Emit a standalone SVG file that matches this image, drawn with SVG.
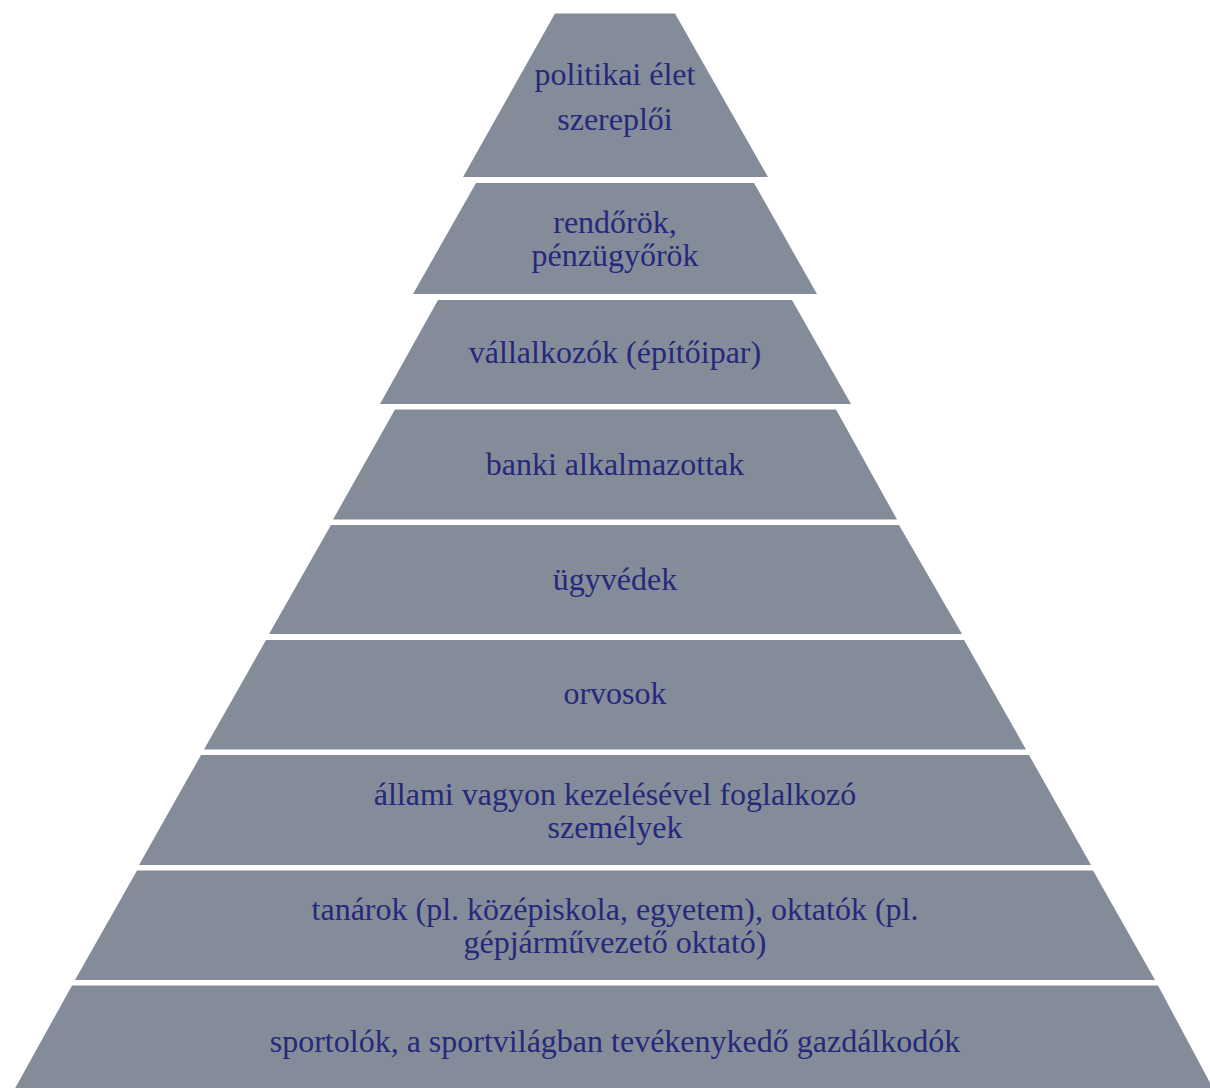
<svg xmlns="http://www.w3.org/2000/svg" width="1210" height="1088" viewBox="0 0 1210 1088">
<style>
.layer{fill:#848c9a;}
.t{font-family:"Liberation Serif","Times New Roman",serif;font-size:32px;fill:#27287a;text-anchor:middle;}
</style>
<rect x="0" y="0" width="1210" height="1088" fill="#ffffff"/>
<g id="layer1">
<polygon class="layer" points="555,13.5 675,13.5 768,177 463,177"/>
<text class="t" x="615" y="85">politikai élet</text>
<text class="t" x="615" y="130">szereplői</text>
</g>
<g id="layer2">
<polygon class="layer" points="476,183 754,183 817,294 413,294"/>
<text class="t" x="615" y="233">rendőrök,</text>
<text class="t" x="615" y="266">pénzügyőrök</text>
</g>
<g id="layer3">
<polygon class="layer" points="438,300 792,300 851,404 380,404"/>
<text class="t" x="615" y="363">vállalkozók (építőipar)</text>
</g>
<g id="layer4">
<polygon class="layer" points="395,409.5 836,409.5 897,519.5 333,519.5"/>
<text class="t" x="615" y="475">banki alkalmazottak</text>
</g>
<g id="layer5">
<polygon class="layer" points="331,525 899,525 962,634 269,634"/>
<text class="t" x="615" y="590">ügyvédek</text>
</g>
<g id="layer6">
<polygon class="layer" points="266,640 964,640 1026,749.5 204,749.5"/>
<text class="t" x="615" y="704">orvosok</text>
</g>
<g id="layer7">
<polygon class="layer" points="201,755 1029,755 1091,865 139,865"/>
<text class="t" x="615" y="805">állami vagyon kezelésével foglalkozó</text>
<text class="t" x="615" y="838">személyek</text>
</g>
<g id="layer8">
<polygon class="layer" points="137,870.5 1093,870.5 1155,980 75,980"/>
<text class="t" x="615" y="920">tanárok (pl. középiskola, egyetem), oktatók (pl.</text>
<text class="t" x="615" y="953">gépjárművezető oktató)</text>
</g>
<g id="layer9">
<polygon class="layer" points="72,985.5 1158,985.5 1215,1092 13,1092"/>
<text class="t" x="615" y="1052">sportolók, a sportvilágban tevékenykedő gazdálkodók</text>
</g>
<g id="connectors"></g>
</svg>
